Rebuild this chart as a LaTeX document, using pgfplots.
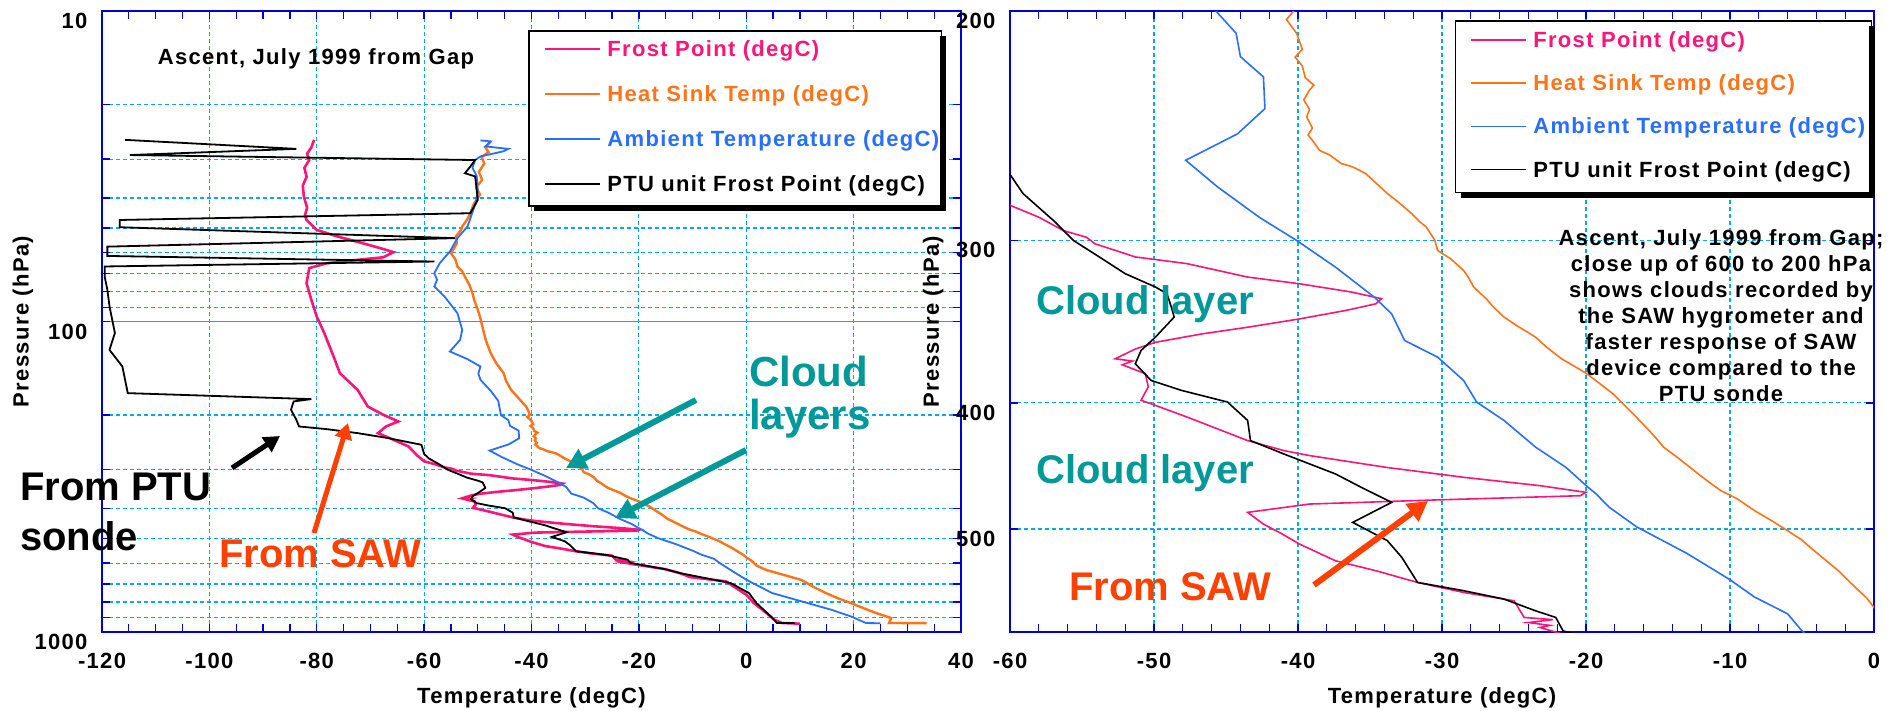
\documentclass[border=0pt]{standalone}
\usepackage{pgfplots}
\pgfplotsset{compat=1.18}
\usepackage{pgfplotstable}
\usepackage{fontspec}
\setmainfont{Liberation Sans}[LetterSpace=6]
\newfontfamily\bigfamily{Liberation Sans}
\usetikzlibrary{arrows.meta}

\definecolor{frostc}{RGB}{255,20,120}
\definecolor{heatc}{RGB}{255,115,25}
\definecolor{ambc}{RGB}{40,110,255}
\definecolor{axc}{RGB}{0,0,210}
\definecolor{gridc}{RGB}{0,170,235}
\definecolor{tealc}{RGB}{0,153,153}
\definecolor{sawc}{RGB}{255,64,0}

\newcommand\smallf{\fontsize{22}{26}\selectfont\bfseries}
\newcommand\bigf{\bigfamily\fontsize{40}{46}\selectfont\bfseries}
\newcommand\cloudf{\bigfamily\fontsize{42}{48}\selectfont\bfseries}

\pgfplotstableread{
T P
-80.5 26.0
-81.0 27.5
-81.8 28.8
-81.4 30.2
-82.3 32.0
-81.9 34.2
-82.6 36.5
-82.4 39.6
-81.8 43.0
-82.2 45.5
-81.9 47.1
-80.0 50.7
-76.2 53.2
-71.4 56.0
-68.1 58.1
-65.7 59.8
-67.6 62.1
-72.4 63.3
-78.1 64.9
-81.4 67.3
-81.9 75.3
-81.0 85.2
-80.0 96.4
-78.6 109.0
-77.1 126.5
-75.7 146.6
-72.4 166.0
-70.5 187.8
-67.6 199.8
-64.8 209.8
-67.1 217.8
-68.6 228.8
-65.7 240.4
-62.9 252.6
-61.3 270.0
-60.0 282.0
-58.0 288.0
-56.3 294.9
-54.7 298.4
-54.1 301.9
-51.3 309.0
-47.7 312.7
-43.5 320.2
-39.9 324.0
-36.3 328.8
-34.2 332.7
-34.6 335.7
-36.7 339.7
-39.9 344.8
-43.5 349.9
-46.7 354.1
-49.9 359.4
-51.3 363.7
-52.7 370.0
-51.5 371.5
-52.2 374.0
-50.6 379.9
-50.4 388.9
-50.9 398.2
-49.9 401.8
-47.7 410.2
-45.6 418.8
-43.5 427.6
-41.0 435.2
-39.2 439.1
-33.9 448.3
-28.5 456.3
-23.2 463.1
-20.0 468.6
-20.4 471.4
-30.6 475.0
-39.2 478.4
-43.5 485.5
-42.4 495.7
-41.3 503.0
-39.9 513.5
-37.4 528.9
-34.6 538.3
-31.7 549.6
-28.5 559.4
-25.0 567.7
-24.3 584.7
-22.3 587.0
-24.0 590.0
-22.5 593.0
-23.2 595.2
-21.0 605.0
-15.2 627.0
-12.4 645.8
-10.5 665.3
-3.8 687.0
-1.9 721.7
0.0 758.3
1.4 806.7
3.8 868.8
5.2 912.9
6.7 935.5
10.0 940.0
}\frostdata

\pgfplotstableread{
T P
-47.6 26.3
-48.6 27.5
-48.0 28.5
-49.3 29.5
-48.8 31.0
-49.8 33.0
-49.2 35.0
-50.3 37.0
-49.6 39.0
-50.8 42.0
-51.4 44.8
-52.0 47.0
-52.9 49.4
-53.2 51.0
-54.1 53.2
-53.9 56.0
-55.0 60.3
-54.2 63.0
-53.8 66.5
-52.9 69.0
-52.4 71.7
-51.6 76.0
-51.0 81.1
-50.6 86.0
-50.0 91.7
-49.5 98.0
-49.0 106.4
-48.5 115.0
-47.6 126.5
-46.6 136.0
-45.2 146.6
-44.7 156.0
-43.8 166.0
-42.5 176.0
-41.0 187.8
-40.6 194.0
-40.3 200.0
-40.8 203.0
-40.1 208.0
-39.7 214.0
-40.2 217.0
-39.7 220.4
-39.5 225.0
-38.9 228.0
-39.2 230.0
-39.6 234.0
-39.2 238.0
-39.4 241.2
-39.0 246.0
-39.3 249.0
-39.0 251.4
-38.5 255.9
-37.8 258.0
-37.0 261.9
-36.2 263.5
-35.3 266.6
-34.6 271.0
-33.8 276.2
-33.1 280.0
-32.1 286.2
-31.6 290.0
-31.1 293.0
-30.8 296.5
-30.5 300.0
-30.3 305.5
-29.4 310.0
-28.5 316.5
-28.2 320.0
-27.8 325.9
-26.9 333.0
-26.5 337.0
-25.7 343.7
-24.8 349.0
-23.5 356.1
-22.8 362.0
-21.7 370.0
-20.8 375.0
-20.0 379.6
-19.0 387.0
-18.1 393.9
-17.3 402.0
-16.5 410.3
-15.8 418.0
-15.2 425.0
-14.6 432.7
-13.6 441.0
-12.5 450.9
-11.6 459.0
-10.65 467.1
-9.5 474.0
-8.3 484.0
-7.2 492.0
-6.0 501.5
-5.0 510.0
-4.3 518.0
-3.6 525.7
-2.5 538.0
-1.3 554.4
-0.5 565.0
0.0 574.6
1.0 590.0
2.0 612.0
3.8 632.0
7.0 655.0
10.3 680.0
12.5 715.0
14.8 749.0
17.0 778.0
19.5 806.7
22.0 840.0
24.2 868.8
27.0 901.7
26.6 935.5
33.6 936.0
}\heatdata

\pgfplotstableread{
T P
-49.5 26.1
-47.6 26.3
-48.6 27.3
-44.3 27.8
-45.2 28.3
-49.5 29.4
-50.5 30.2
-51.0 32.0
-50.2 34.0
-50.0 38.0
-50.5 42.0
-51.9 49.4
-53.8 53.9
-55.2 59.5
-57.1 64.9
-58.1 69.9
-57.6 73.4
-58.1 77.2
-56.2 83.1
-53.8 94.0
-52.9 106.4
-53.3 114.6
-55.2 124.9
-52.0 132.0
-49.5 139.6
-49.9 147.0
-49.5 154.1
-47.5 168.0
-46.2 180.0
-45.7 200.0
-44.3 208.0
-44.0 216.8
-42.4 224.7
-42.3 237.7
-44.2 248.5
-47.8 260.4
-45.6 272.9
-42.7 288.0
-40.1 300.1
-37.4 314.6
-34.7 331.8
-33.5 341.7
-32.6 358.2
-30.3 369.0
-28.5 384.5
-27.6 399.5
-25.7 412.6
-23.5 432.6
-21.4 448.3
-20.0 463.0
-19.3 469.9
-18.4 481.0
-16.5 498.0
-13.0 522.0
-10.0 547.0
-8.3 564.0
-6.0 581.0
-5.05 598.0
-3.0 630.0
0.0 678.5
4.8 749.0
10.3 796.8
15.8 847.6
19.5 890.6
22.3 935.5
25.0 937.0
}\ambdata

\pgfplotstableread{
T P
-115.7 26.0
-83.8 27.8
-114.8 29.1
-50.5 30.2
-51.4 31.7
-52.4 33.3
-50.5 34.1
-50.0 40.6
-51.4 44.8
-116.7 47.1
-116.7 49.7
-54.3 53.9
-119.0 57.4
-119.0 61.5
-58.1 64.1
-119.5 66.5
-119.5 71.7
-119.0 79.1
-118.6 89.4
-117.6 108.9
-118.6 123.4
-116.2 139.6
-115.7 154.1
-115.2 170.1
-81.0 177.8
-84.3 180.9
-84.8 192.4
-83.8 207.3
-83.3 217.8
-78.1 222.2
-72.4 228.8
-66.7 237.4
-60.5 249.5
-60.0 267.0
-59.1 276.2
-57.0 289.6
-55.6 300.1
-53.8 309.0
-52.0 318.3
-49.9 325.9
-49.1 329.8
-48.8 337.6
-48.6 343.7
-49.9 356.1
-50.9 364.6
-51.3 373.3
-50.2 384.5
-48.1 391.3
-44.9 399.5
-43.5 412.6
-43.3 427.6
-41.0 437.8
-37.4 453.6
-35.6 464.5
-33.5 477.0
-36.2 494.2
-33.8 510.4
-32.8 525.6
-31.7 549.6
-28.5 557.7
-25.7 566.0
-23.5 577.9
-22.1 584.7
-21.6 598.7
-15.2 627.0
-12.4 645.8
-2.9 695.6
0.5 749.0
1.9 806.7
5.2 912.9
5.7 935.5
9.0 936.0
}\ptudata

\newcommand\lentry[3]{\addlegendentry{\makebox[#1][l]{\textcolor{#2}{#3}}}}

\begin{document}
\begin{tikzpicture}
\path[use as bounding box] (0,0) rectangle (1897pt,710pt);

\begin{axis}[at={(102pt,78pt)}, anchor=south west, scale only axis, width=859pt, height=621pt,
  ymode=log, y dir=reverse,
  xmin=-120, xmax=40, ymin=10, ymax=1000,
  axis line style={draw=axc, line width=1.8pt},
  tick align=inside, tick style={draw=axc, line width=1.3pt},
  major tick length=8pt, minor tick length=8pt,
  grid style={draw=gridc, line width=1.2pt, dash pattern=on 4pt off 3pt},
  tick label style={font=\smallf},
  xlabel style={font=\smallf, at={(axis description cs:0.5,0)}, anchor=center, yshift=-66pt},
  ylabel style={font=\smallf, at={(axis description cs:-0.092,0.5)}, anchor=center},
  xticklabel style={yshift=-18pt},
  yticklabel style={xshift=-11pt, yshift=-10pt},
  xtick={-120,-100,-80,-60,-40,-20,0,20,40},
  xticklabels={-120,-100,-80,-60,-40,-20,0,20,40},
  minor x tick num=3,
  ytick={10,100,1000}, yticklabels={10,100,1000},
  minor ytick={20,30,40,50,60,70,80,90,200,300,400,500,600,700,800,900},
  xmajorgrids, ymajorgrids, yminorgrids,
  major y grid style={solid},
  xlabel={Temperature (degC)}, ylabel={Pressure (hPa)},
  legend cell align=left,
  legend image code/.code={\draw[#1, line width=1.6pt] (0pt,2pt) -- (55pt,2pt);},
  legend style={font=\smallf, draw=black, line width=1.5pt, fill=white,
    at={(axis description cs:0.496,0.969)}, anchor=north west,
    inner xsep=15pt, inner ysep=7.5pt, column sep=7pt, row sep=20pt,
    nodes={inner xsep=0pt, inner ysep=2pt, text height=16pt, text depth=5pt}},
]
\addplot[frostc, line width=2.6pt] table[x=T,y=P]{\frostdata}; \lentry{319pt}{frostc}{Frost Point (degC)}
\addplot[heatc, line width=2.4pt] table[x=T,y=P]{\heatdata}; \lentry{319pt}{heatc}{Heat Sink Temp (degC)}
\addplot[ambc, line width=1.8pt] table[x=T,y=P]{\ambdata}; \lentry{319pt}{ambc}{Ambient Temperature (degC)}
\addplot[black, line width=1.8pt] table[x=T,y=P]{\ptudata}; \lentry{319pt}{black}{PTU unit Frost Point (degC)}
\end{axis}

\begin{axis}[at={(1010pt,78pt)}, anchor=south west, scale only axis, width=864pt, height=621pt,
  ymode=log, y dir=reverse,
  xmin=-60, xmax=0, ymin=200, ymax=600,
  axis line style={draw=axc, line width=1.8pt},
  tick align=inside, tick style={draw=axc, line width=1.3pt},
  major tick length=8pt, minor tick length=8pt,
  grid style={draw=gridc, line width=1.2pt, dash pattern=on 4pt off 3pt},
  tick label style={font=\smallf},
  xlabel style={font=\smallf, at={(axis description cs:0.5,0)}, anchor=center, yshift=-66pt},
  ylabel style={font=\smallf, at={(axis description cs:-0.089,0.5)}, anchor=center},
  xticklabel style={yshift=-18pt},
  yticklabel style={xshift=-11pt, yshift=-10pt},
  xtick={-60,-50,-40,-30,-20,-10,0},
  xticklabels={-60,-50,-40,-30,-20,-10,0},
  minor x tick num=4,
  ytick={200,300,400,500}, yticklabels={200,300,400,500},
  xmajorgrids, ymajorgrids,
  xlabel={Temperature (degC)}, ylabel={Pressure (hPa)},
  legend cell align=left,
  legend image code/.code={\draw[#1, line width=1.6pt] (0pt,2pt) -- (55pt,2pt);},
  legend style={font=\smallf, draw=black, line width=1.5pt, fill=white,
    at={(axis description cs:0.515,0.9855)}, anchor=north west,
    inner xsep=14pt, inner ysep=8.5pt, column sep=7pt, row sep=18.3pt,
    nodes={inner xsep=0pt, inner ysep=2pt, text height=16pt, text depth=5pt}},
]
\addplot[frostc, line width=1.6pt] table[x=T,y=P]{\frostdata}; \lentry{324pt}{frostc}{Frost Point (degC)}
\addplot[heatc, line width=1.6pt] table[x=T,y=P]{\heatdata}; \lentry{324pt}{heatc}{Heat Sink Temp (degC)}
\addplot[ambc, line width=1.6pt] table[x=T,y=P]{\ambdata}; \lentry{324pt}{ambc}{Ambient Temperature (degC)}
\addplot[black, line width=1.6pt] table[x=T,y=P]{\ptudata}; \lentry{324pt}{black}{PTU unit Frost Point (degC)}
\end{axis}

% legend shadows
\fill[black] (534pt,499pt) rectangle (946pt,505pt);
\fill[black] (940pt,499pt) rectangle (946pt,674pt);
\fill[black] (1461pt,512pt) rectangle (1875pt,518pt);
\fill[black] (1869pt,512pt) rectangle (1875pt,684pt);

% annotations
\node[font=\smallf, anchor=base, inner sep=0] at (316pt,645pt) {Ascent, July 1999 from Gap};
\node[font=\smallf, anchor=north, inner sep=0, align=center] at (1721pt,481pt)
  {Ascent, July 1999 from Gap;\\close up of 600 to 200 hPa\\shows clouds recorded by\\the SAW hygrometer and\\faster response of SAW\\device compared to the\\PTU sonde};

\node[font=\bigf, anchor=base west, inner sep=0] at (20pt,210pt) {From PTU};
\node[font=\bigf, anchor=base west, inner sep=0] at (20pt,160pt) {sonde};
\node[font=\bigf, text=sawc, anchor=base west, inner sep=0] at (219pt,143pt) {From SAW};
\node[font=\cloudf, text=tealc, anchor=base west, inner sep=0] at (749pt,323pt) {Cloud};
\node[font=\cloudf, text=tealc, anchor=base west, inner sep=0] at (749pt,280pt) {layers};
\node[font=\bigf, text=tealc, anchor=base west, inner sep=0] at (1036pt,395pt) {Cloud layer};
\node[font=\bigf, text=tealc, anchor=base west, inner sep=0] at (1036pt,227pt) {Cloud layer};
\node[font=\bigf, text=sawc, anchor=base west, inner sep=0] at (1069pt,110pt) {From SAW};

\draw[black, line width=5pt, -{Triangle[length=16pt,width=17pt]}] (232pt,242pt) -- (280pt,274pt);
\draw[sawc, line width=5pt, -{Triangle[length=16pt,width=17pt]}] (314pt,177pt) -- (348pt,287pt);
\draw[tealc, line width=6pt, -{Triangle[length=20pt,width=21pt]}] (696pt,310pt) -- (566pt,242pt);
\draw[tealc, line width=6pt, -{Triangle[length=20pt,width=21pt]}] (746pt,260pt) -- (615pt,192pt);
\draw[sawc, line width=6pt, -{Triangle[length=20pt,width=21pt]}] (1314pt,125pt) -- (1428pt,209pt);
\end{tikzpicture}
\end{document}
